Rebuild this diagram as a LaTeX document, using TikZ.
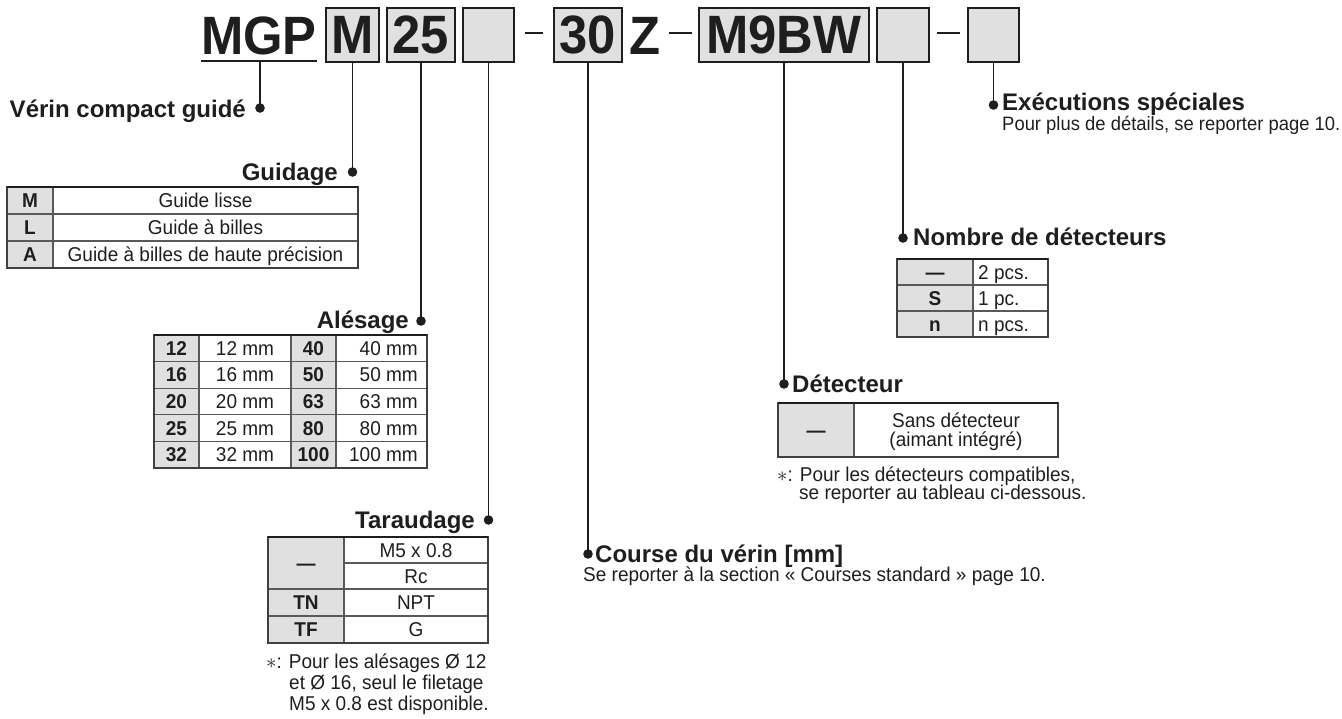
\documentclass[tikz,border=0pt]{standalone}
\usepackage{fontspec}
\setmainfont{Liberation Sans}
\newfontfamily\hdrfont[FakeStretch=0.94]{Liberation Sans}
\newfontfamily\bodyfont[FakeStretch=0.95]{Liberation Sans}
\definecolor{keygray}{RGB}{224,224,224}
\definecolor{ink}{RGB}{30,30,30}
\begin{document}
\begin{tikzpicture}[x=1pt,y=-1pt,
  hdr/.style={font=\hdrfont\bfseries\fontsize{54}{54}\selectfont, inner sep=0, text=ink},
  hbox/.style={hdr, draw=ink, line width=2, fill=keygray, minimum height=54},
  dashline/.style={line width=2.6, draw=ink},
  conn/.style={line width=1.5, draw=ink},
  ttl/.style={font=\bfseries\fontsize{24}{25}\selectfont, inner sep=0, text=ink},
  body/.style={font=\bodyfont\fontsize{20}{21}\selectfont, inner sep=0, text=ink},
  cell/.style={body, text height=14, text depth=0},
  kcell/.style={cell, font=\bodyfont\bfseries\fontsize{20}{21}\selectfont},
  tline/.style={line width=1.1, draw=black!65},
  touter/.style={line width=1.4, draw=black!75},
  ttop/.style={line width=2.4, draw=ink},
  dotc/.style={fill=ink}
]
\useasboundingbox (0,0) rectangle (1342,718);

% ---------- header ----------
\node[hdr] (mgp) at (259,36) {MGP};
\coordinate (ulL) at (201,61);
\coordinate (ulR) at (317,61);
\coordinate (ul) at (260,61);
\draw[line width=2, draw=ink] (ulL) -- (ulR);
\node[hbox, minimum width=53] (bM) at (352.5,34.5) {M};
\node[hbox, minimum width=68] (b25) at (421,34.5) {25};
\node[hbox, minimum width=51] (bT) at (488.5,34.5) {};
\coordinate (d1a) at (525,33); \coordinate (d1b) at (543,33);
\draw[dashline] (d1a) -- (d1b);
\node[hbox, minimum width=68] (b30) at (588,34.5) {30};
\node[hdr] (z) at (645,36) {Z};
\coordinate (d2a) at (669,33); \coordinate (d2b) at (692,33);
\draw[dashline] (d2a) -- (d2b);
\node[hbox, minimum width=170] (bSW) at (784,34.5) {M9BW};
\node[hbox, minimum width=52] (bN) at (903,34.5) {};
\coordinate (d3a) at (937,33); \coordinate (d3b) at (960,33);
\draw[dashline] (d3a) -- (d3b);
\node[hbox, minimum width=51] (bX) at (993.5,34.5) {};

% ---------- dots and connectors ----------
\coordinate (dVer) at (260,108);
\coordinate (dGui) at (352.5,172);
\coordinate (dAle) at (421,321);
\coordinate (dTar) at (488.5,520);
\coordinate (dCou) at (588,554);
\coordinate (dDet) at (784,384);
\coordinate (dNom) at (903,238);
\coordinate (dExe) at (993.5,105);
\draw[conn] (ul) -- (dVer);
\draw[conn] (bM.south) -- (dGui);
\draw[conn] (b25.south) -- (dAle);
\draw[conn] (bT.south) -- (dTar);
\draw[conn] (b30.south) -- (dCou);
\draw[conn] (bSW.south) -- (dDet);
\draw[conn] (bN.south) -- (dNom);
\draw[conn] (bX.south) -- (dExe);
\foreach \d in {dVer,dGui,dAle,dTar,dCou,dDet,dNom,dExe}
  \fill[dotc] (\d) circle[radius=4.8pt];

% ---------- titles ----------
\node[ttl, anchor=base east] (tVer) at (246,117) {Vérin compact guidé};
\node[ttl, anchor=base east] (tGui) at (338,180) {Guidage};
\node[ttl, anchor=base east] (tAle) at (409,328) {Alésage};
\node[ttl, anchor=base east] (tTar) at (475,528) {Taraudage};
\node[ttl, anchor=base west] (tCou) at (595,562) {Course du vérin [mm]};
\node[body, anchor=base west] (sCou) at (583,581) {Se reporter à la section « Courses standard » page 10.};
\node[ttl, anchor=base west] (tDet) at (792,392) {Détecteur};
\node[ttl, anchor=base west] (tNom) at (913,245) {Nombre de détecteurs};
\node[ttl, anchor=base west] (tExe) at (1002,110) {Exécutions spéciales};
\node[body, font=\bodyfont\fontsize{19.4}{21}\selectfont, anchor=base west] (sExe) at (1002,130) {Pour plus de détails, se reporter page 10.};

% ---------- Guidage table ----------
\fill[keygray] (7,187) rectangle (53,268);
\draw[tline] (7,214) -- (358,214) (7,241) -- (358,241) (53,187) -- (53,268);
\draw[touter] (7,187) rectangle (358,268);
\draw[ttop] (7,187) -- (358,187);
\node[kcell] (gk1) at (30,200.5) {M};
\node[cell]  (gv1) at (205.5,200.5) {Guide lisse};
\node[kcell] (gk2) at (30,227.5) {L};
\node[cell]  (gv2) at (205.5,227.5) {Guide à billes};
\node[kcell] (gk3) at (30,254.5) {A};
\node[cell]  (gv3) at (205.5,254.5) {Guide à billes de haute précision};

% ---------- Alésage table ----------
\fill[keygray] (154,335) rectangle (199,468);
\fill[keygray] (291,335) rectangle (336,468);
\foreach \k in {1,2,3,4}
  \draw[tline] (154,335+26.6*\k) -- (427,335+26.6*\k);
\draw[tline] (199,335) -- (199,468) (291,335) -- (291,468) (336,335) -- (336,468);
\draw[touter] (154,335) rectangle (427,468);
\draw[ttop] (154,335) -- (427,335);
\foreach \i/\a/\b in {1/12/40,2/16/50,3/20/63,4/25/80,5/32/100}{
  \node[kcell] (ak\i) at (176.5,335+26.6*\i-13.3) {\a};
  \node[cell]  (av\i) at (245,335+26.6*\i-13.3) {\a\ mm};
  \node[kcell] (bk\i) at (313.5,335+26.6*\i-13.3) {\b};
  \node[cell, anchor=east] (bv\i) at (418,335+26.6*\i-13.3) {\b\ mm};
}

% ---------- Taraudage table ----------
\fill[keygray] (268,537) rectangle (344,643);
\draw[tline] (344,563) -- (488,563) (268,589) -- (488,589) (268,616) -- (488,616) (344,537) -- (344,643);
\draw[touter] (268,537) rectangle (488,643);
\draw[ttop] (268,537) -- (488,537);
\node[kcell] (rk1) at (306,563) {—};
\node[cell]  (rv1) at (416,550) {M5 x 0.8};
\node[cell]  (rv2) at (416,576) {Rc};
\node[kcell] (rk3) at (306,602.5) {TN};
\node[cell]  (rv3) at (416,602.5) {NPT};
\node[kcell] (rk4) at (306,629.5) {TF};
\node[cell]  (rv4) at (416,629.5) {G};
\node[body, anchor=base west] (nT1) at (266,668) {$\ast$: Pour les alésages Ø 12};
\node[body, anchor=base west] (nT2) at (289,689) {et Ø 16, seul le filetage};
\node[body, anchor=base west] (nT3) at (289,710) {M5 x 0.8 est disponible.};

% ---------- Nombre table ----------
\fill[keygray] (897,259) rectangle (973,337);
\draw[tline] (897,285) -- (1048,285) (897,311) -- (1048,311) (973,259) -- (973,337);
\draw[touter] (897,259) rectangle (1048,337);
\draw[ttop] (897,259) -- (1048,259);
\node[kcell] (nk1) at (935,272) {—};
\node[cell, anchor=west] (nv1) at (978,272) {2 pcs.};
\node[kcell] (nk2) at (935,298) {S};
\node[cell, anchor=west] (nv2) at (978,298) {1 pc.};
\node[kcell] (nk3) at (935,324) {n};
\node[cell, anchor=west] (nv3) at (978,324) {n pcs.};

% ---------- Détecteur table ----------
\fill[keygray] (778,403) rectangle (854,457);
\draw[tline] (854,403) -- (854,457);
\draw[touter] (778,403) rectangle (1058,457);
\draw[ttop] (778,403) -- (1058,403);
\node[kcell] (dk1) at (816,430) {—};
\node[cell]  (dv1) at (956,420.5) {Sans détecteur};
\node[cell]  (dv2) at (956,439.5) {(aimant intégré)};
\node[body, anchor=base west] (nD1) at (777,481) {$\ast$: Pour les détecteurs compatibles,};
\node[body, anchor=base west] (nD2) at (799,499) {se reporter au tableau ci-dessous.};
\end{tikzpicture}
\end{document}
